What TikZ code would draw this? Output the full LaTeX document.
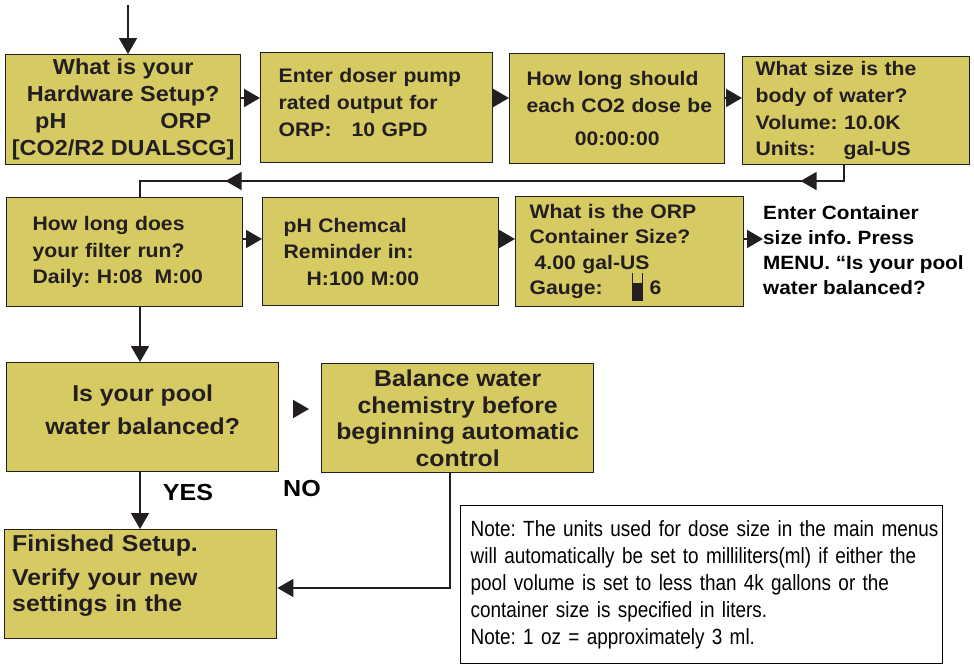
\documentclass[tikz,border=0pt]{standalone}
\usepackage{fontspec}
\newfontfamily\boxfont{Liberation Sans}[FakeStretch=1.08]
\newfontfamily\notefont{Liberation Sans}[FakeStretch=0.86]
\usetikzlibrary{arrows.meta, positioning, calc, decorations.markings}
\definecolor{panel}{RGB}{214,202,99}
\definecolor{ink}{RGB}{35,31,32}

\begin{document}
\frenchspacing
\begin{tikzpicture}[
  x=1pt, y=-1pt,
  box/.style     = {draw=ink, line width=1.4pt, fill=panel, text=ink, anchor=north west,
                    inner ysep=0pt, minimum height=110pt},
  menu/.style    = {box, align=left, font=\boxfont\bfseries\fontsize{19.6}{27}\selectfont},
  bigmenu/.style = {box, font=\boxfont\bfseries\fontsize{23}{26.5}\selectfont},
  answer/.style  = {text=black, inner sep=0pt, font=\boxfont\bfseries\fontsize{23.2}{26}\selectfont},
  notebox/.style = {draw=black, line width=1.4pt, fill=white, anchor=north west, inner ysep=0pt,
                    align=left, font=\notefont\fontsize{22}{27}\selectfont},
  link/.style    = {draw=ink, line width=1.8pt},
  tip/.style     = {link, -{Triangle[length=16pt, width=18pt]}},
  returnmarks/.style = {postaction={decorate}, decoration={markings,
      mark=at position 59pt with {\arrow{Triangle[length=16pt, width=18pt]}},
      mark=at position 634pt with {\arrow{Triangle[length=16pt, width=18pt]}}}}
]
  \useasboundingbox (0,0) rectangle (974,664);

  % first row
  \node[box, align=center, minimum width=235pt,
        font=\boxfont\bfseries\fontsize{21.7}{27}\selectfont] (hwsetup) at (5,54)
    {What is your\\Hardware Setup?\\pH\hspace{94pt}ORP\\{[}CO2/R2 DUALSCG]};
  \node[menu, minimum width=232pt, text width=196pt, inner xsep=18pt] (doser) at (260,52)
    {Enter doser pump\\rated output for\\ORP:\hspace{20pt}10 GPD\\[-16pt]\mbox{}};
  \node[menu, minimum width=215pt, text width=196pt, inner xsep=9.5pt] (dosetime) at (509,53)
    {\hspace*{7.5pt}How long should\\\hspace*{7.5pt}each CO2 dose be\\[6pt]\hspace*{7.5pt}\makebox[181pt]{00:00:00}};
  \node[menu, minimum width=227pt, minimum height=108pt, text width=201pt, inner xsep=13pt,
        font=\boxfont\bfseries\fontsize{19.6}{26.7}\selectfont] (volume) at (742,56)
    {What size is the\\body of water?\\Volume: 10.0K\\Units:\hspace{28pt}gal-US};

  % second row
  \node[menu, minimum width=236pt, minimum height=109pt, text width=184pt, inner xsep=26pt,
        font=\boxfont\bfseries\fontsize{19.6}{26.5}\selectfont] (filter) at (6,197)
    {How long does\\your filter run?\\Daily: H:08\hspace{12pt}M:00};
  \node[menu, minimum width=236pt, minimum height=108pt, text width=194pt, inner xsep=21pt,
        font=\boxfont\bfseries\fontsize{19.6}{26.5}\selectfont] (reminder) at (262,197)
    {pH Chemcal\\Reminder in:\\\hspace*{23pt}H:100 M:00};
  \node[menu, minimum width=228pt, text width=200pt, inner xsep=14pt,
        font=\boxfont\bfseries\fontsize{19.6}{25.5}\selectfont] (container) at (515,196)
    {What is the ORP\\Container Size?\\\hspace*{5pt}4.00 gal-US\\Gauge:\hspace{47pt}6};
  \node[anchor=north west, inner sep=0pt, align=left, text=black,
        font=\boxfont\bfseries\fontsize{19.2}{25}\selectfont] (enterinfo) at (763,205)
    {Enter Container\\size info. Press\\MENU. “Is your pool\\water balanced?};

  % container gauge
  \draw[ink, line width=0.7pt] ([shift={(117,77)}]container.north west) -- ++(0,27) -- ++(10,0) -- ++(0,-27);
  \fill[ink] ([shift={(117,87)}]container.north west) rectangle ++(10,17);

  % third row
  \node[bigmenu, align=center, minimum width=272pt, minimum height=109pt,
        font=\boxfont\bfseries\fontsize{23}{33}\selectfont] (balanced) at (6,362)
    {Is your pool\\water balanced?\\[-18pt]\mbox{}};
  \node[bigmenu, align=center, minimum width=272pt, minimum height=109pt] (balancechem) at (321,363)
    {Balance water\\chemistry before\\beginning automatic\\control};
  \node[bigmenu, align=left, minimum width=272pt, minimum height=109pt, text width=257pt,
        inner xsep=7.5pt, font=\boxfont\bfseries\fontsize{23}{26}\selectfont] (finished) at (4,529)
    {Finished Setup.\\[8pt]Verify your new\\settings in the\\[-4pt]\mbox{}};
  \node[answer] (yes) at (188,493) {YES};
  \node[answer] (no) at (302,489) {NO};

  % note
  \node[notebox, minimum width=482pt, minimum height=158pt, text width=466pt, inner xsep=8pt] (note) at (460,505)
    {\hspace*{2pt}\mbox{Note: The units used for dose size in the main menus}\\
     \hspace*{2pt}will automatically be set to milliliters(ml) if either the\\
     \hspace*{2pt}pool volume is set to less than 4k gallons or the\\
     \hspace*{2pt}container size is specified in liters.\\
     \hspace*{2pt}Note: 1 oz = approximately 3 ml.};

  % connectors
  \coordinate (entry) at (128,5);
  \coordinate (rowA) at (0,98);
  \coordinate (rowB) at (0,239);
  \coordinate (rowC) at (0,409);
  \coordinate (retR) at (844,181);
  \coordinate (retL) at (140,181);
  \coordinate (nocorner) at (450,588);

  \draw[tip] (entry) -- (hwsetup.north -| entry);
  \draw[tip] (hwsetup.east |- rowA) -- (doser.west |- rowA);
  \draw[tip] (doser.east |- rowA) -- (dosetime.west |- rowA);
  \draw[tip] (dosetime.east |- rowA) -- (volume.west |- rowA);

  \draw[link, returnmarks] (volume.south -| retR) -- (retR) -- (retL) -- (filter.north -| retL);

  \draw[tip] (filter.east |- rowB) -- (reminder.west |- rowB);
  \draw[tip] (reminder.east |- rowB) -- (container.west |- rowB);
  \draw[tip] (container.east |- rowB) -- (enterinfo.west |- rowB);

  \draw[tip] (filter.south -| retL) -- (balanced.north -| retL);
  \draw[tip] (balanced.south -| retL) -- (finished.north -| retL);
  \draw[tip, shorten <=15pt, shorten >=12pt] (balanced.east |- rowC) -- (balancechem.west |- rowC);
  \draw[tip] (balancechem.south -| nocorner) |- (finished.east |- nocorner);
\end{tikzpicture}
\end{document}
